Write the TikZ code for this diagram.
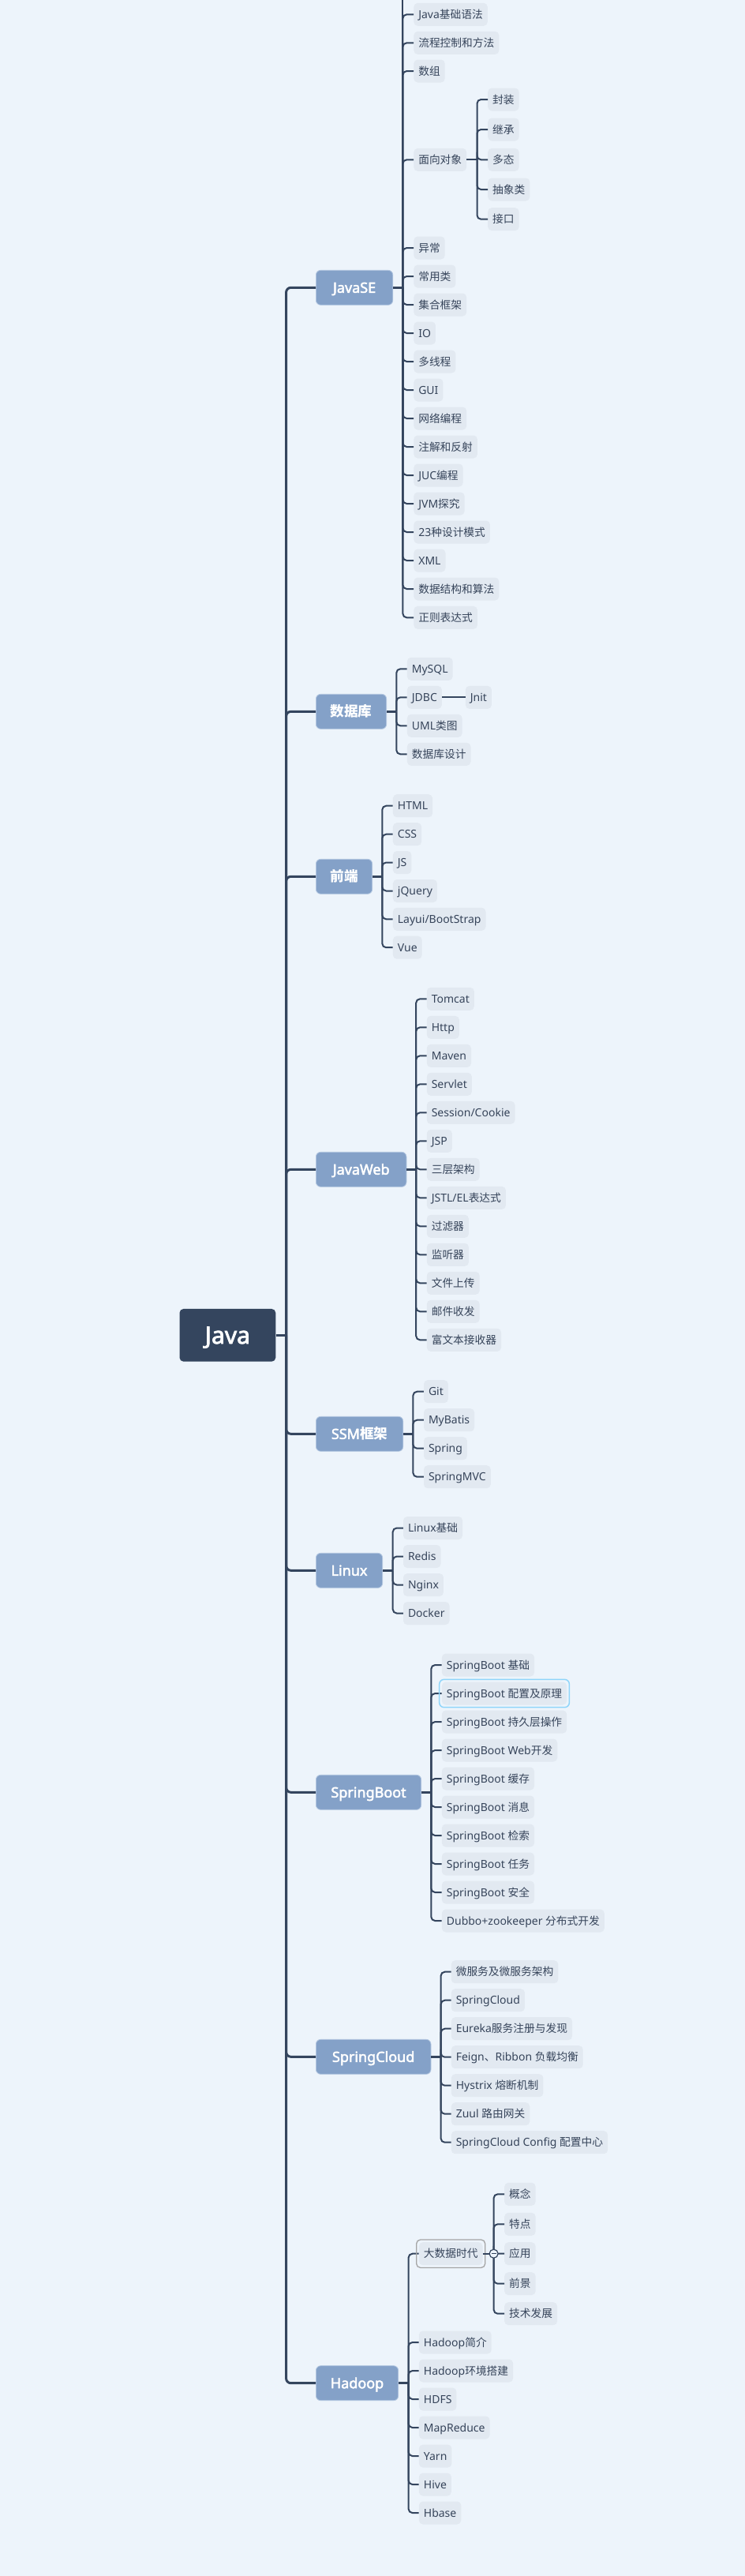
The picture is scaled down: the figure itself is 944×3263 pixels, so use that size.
\documentclass[tikz,border=0pt]{standalone}
\usepackage{fontspec}
\setmainfont{Noto Sans}[AutoFakeBold=2.5]
\newfontfamily\zhfont{Noto Sans CJK SC}[Scale=0.98]
\newcommand\zh[1]{{\zhfont #1}}
\definecolor{bgc}{HTML}{EDF4FB}
\definecolor{leafc}{HTML}{E2E9F1}
\definecolor{txtc}{HTML}{36445A}
\definecolor{topicc}{HTML}{84A1C8}
\definecolor{topicb}{HTML}{B3C7E1}
\definecolor{rootc}{HTML}{34455E}
\definecolor{linec}{HTML}{34455E}
\definecolor{selc}{HTML}{8FD5FA}
\definecolor{grayb}{HTML}{A5A5A5}
\begin{document}
\begin{tikzpicture}[x=1pt,y=-1pt,
  rootbox/.style={fill=rootc,text=white,rounded corners=5pt,minimum width=121.8pt,minimum height=66.7pt,inner sep=0pt,
    font=\fontsize{30}{36}\selectfont\bfseries,text height=27pt,text depth=5.6pt},
  topic/.style={fill=topicc,draw=topicb,line width=0.8pt,text=white,rounded corners=6pt,minimum height=44pt,inner sep=0pt,anchor=west,
    font=\fontsize{18}{22}\selectfont\bfseries,text height=17pt,text depth=4pt},
  leaf/.style={fill=leafc,text=txtc,rounded corners=5pt,minimum height=29pt,inner xsep=6pt,inner ysep=0pt,anchor=west,
    font=\fontsize{14}{17}\selectfont,text height=13pt,text depth=3pt},
  trunk/.style={draw=linec,line width=3pt,rounded corners=6pt},
  stub/.style={draw=linec,line width=2.6pt},
  br/.style={draw=linec,line width=2pt,rounded corners=5pt}]
\fill[bgc] (0,0) rectangle (944,3263);
\useasboundingbox (0,0) rectangle (944,3263);

% root and trunk
\node[rootbox] (java) at (288.4,1691.3) {Java};
\coordinate (T) at (362.6,1691.3);
\draw[trunk] (java.east) -- (T);

\node[topic,minimum width=97.4pt] (javase) at (400,364.3) {JavaSE};
\node[topic,minimum width=89.3pt] (db) at (400,901.3) {\zh{数据库}};
\node[topic,minimum width=71.3pt] (fe) at (400,1110.3) {\zh{前端}};
\node[topic,minimum width=114.6pt] (jw) at (400,1481.3) {JavaWeb};
\node[topic,minimum width=110.4pt] (ssm) at (400,1816.3) {SSM\zh{框架}};
\node[topic,minimum width=84.3pt] (lx) at (400,1989.3) {Linux};
\node[topic,minimum width=133.3pt] (sb) at (400,2270.3) {SpringBoot};
\node[topic,minimum width=145.6pt] (sc) at (400,2605.3) {SpringCloud};
\node[topic,minimum width=104.3pt] (hd) at (400,3018.7) {Hadoop};
\foreach \t in {javase,db,fe,jw,ssm,lx,sb,sc,hd} {\draw[trunk] (T) |- (\t.west);}

% JavaSE
\coordinate (jsB) at (510.4,364.3);
\coordinate (jsTop) at (510.4,0);
\draw[stub] (javase.east) -- (jsB);
\draw[br] (jsB) -- (jsTop);
\foreach \nm/\yy/\tx in {js1/18.3/{Java\zh{基础语法}},js2/54.3/{\zh{流程控制和方法}},js3/90/{\zh{数组}},js4/202.3/{\zh{面向对象}},
  js5/314/{\zh{异常}},js6/350/{\zh{常用类}},js7/386/{\zh{集合框架}},js8/422/{IO},js9/458/{\zh{多线程}},js10/494/{GUI},
  js11/530/{\zh{网络编程}},js12/566/{\zh{注解和反射}},js13/602/{JUC\zh{编程}},js14/638/{JVM\zh{探究}},js15/674/{23\zh{种设计模式}},
  js16/710/{XML},js17/746/{\zh{数据结构和算法}},js18/782.3/{\zh{正则表达式}}}
  {\node[leaf] (\nm) at (524.1,\yy) {\tx}; \draw[br] (jsB) |- (\nm.west);}
\coordinate (mxB) at (604.5,202.3);
\draw[br] (js4.east) -- (mxB);
\foreach \nm/\yy/\tx in {mx1/126/{\zh{封装}},mx2/164/{\zh{继承}},mx3/202.3/{\zh{多态}},mx4/240/{\zh{抽象类}},mx5/277.7/{\zh{接口}}}
  {\node[leaf] (\nm) at (618,\yy) {\tx}; \draw[br] (mxB) |- (\nm.west);}

% database
\coordinate (dbB) at (502.3,901.3);
\draw[stub] (db.east) -- (dbB);
\foreach \nm/\yy/\tx in {db1/847.3/{MySQL},db2/883.3/{JDBC},db3/919.3/{UML\zh{类图}},db4/955.3/{\zh{数据库设计}}}
  {\node[leaf] (\nm) at (515.7,\yy) {\tx}; \draw[br] (dbB) |- (\nm.west);}
\node[leaf] (jnit) at (589.6,883.3) {Jnit};
\draw[br] (db2.east) -- (jnit.west);

% front end
\coordinate (feB) at (484.3,1110.3);
\draw[stub] (fe.east) -- (feB);
\foreach \nm/\yy/\tx in {fe1/1020.7/{HTML},fe2/1056.7/{CSS},fe3/1092.5/{JS},fe4/1128.5/{jQuery},fe5/1164.3/{Layui/BootStrap},fe6/1200.2/{Vue}}
  {\node[leaf] (\nm) at (497.7,\yy) {\tx}; \draw[br] (feB) |- (\nm.west);}

% JavaWeb
\coordinate (jwB) at (527.2,1481.3);
\draw[stub] (jw.east) -- (jwB);
\foreach \tx [count=\i from 0] in {Tomcat,Http,Maven,Servlet,Session/Cookie,JSP,\zh{三层架构},JSTL/EL\zh{表达式},\zh{过滤器},\zh{监听器},\zh{文件上传},\zh{邮件收发},\zh{富文本接收器}}
  {\node[leaf] (jw\i) at (540.6,1265.3+36*\i) {\tx}; \draw[br] (jwB) |- (jw\i.west);}

% SSM
\coordinate (ssmB) at (523.4,1816.3);
\draw[stub] (ssm.east) -- (ssmB);
\foreach \tx [count=\i from 0] in {Git,MyBatis,Spring,SpringMVC}
  {\node[leaf] (ssm\i) at (536.8,1762.7+36*\i) {\tx}; \draw[br] (ssmB) |- (ssm\i.west);}

% Linux
\coordinate (lxB) at (497.7,1989.3);
\draw[stub] (lx.east) -- (lxB);
\foreach \tx [count=\i from 0] in {Linux\zh{基础},Redis,Nginx,Docker}
  {\node[leaf] (lx\i) at (510.8,1935.5+36*\i) {\tx}; \draw[br] (lxB) |- (lx\i.west);}

% SpringBoot
\coordinate (sbB) at (546.3,2270.3);
\draw[stub] (sb.east) -- (sbB);
\foreach \tx [count=\i from 0] in {SpringBoot \zh{基础},SpringBoot \zh{配置及原理},SpringBoot \zh{持久层操作},SpringBoot Web\zh{开发},SpringBoot \zh{缓存},
  SpringBoot \zh{消息},SpringBoot \zh{检索},SpringBoot \zh{任务},SpringBoot \zh{安全},Dubbo+zookeeper \zh{分布式开发}}
  {\node[leaf] (sb\i) at (559.7,2109+36*\i) {\tx}; \draw[br] (sbB) |- (sb\i.west);}
\draw[selc,line width=1.5pt,rounded corners=6pt] ([shift={(-3,-3)}]sb1.north west) rectangle ([shift={(3,3)}]sb1.south east);

% SpringCloud
\coordinate (scB) at (558.6,2605.3);
\draw[stub] (sc.east) -- (scB);
\foreach \tx [count=\i from 0] in {\zh{微服务及微服务架构},SpringCloud,Eureka\zh{服务注册与发现},Feign\zh{、}Ribbon \zh{负载均衡},Hystrix \zh{熔断机制},Zuul \zh{路由网关},SpringCloud Config \zh{配置中心}}
  {\node[leaf] (sc\i) at (571.6,2497.7+36*\i) {\tx}; \draw[br] (scB) |- (sc\i.west);}

% Hadoop
\coordinate (hdB) at (517.6,3018.7);
\draw[stub] (hd.east) -- (hdB);
\node[leaf] (bd) at (530.7,2854.7) {\zh{大数据时代}};
\draw[br] (hdB) |- (bd.west);
\foreach \tx [count=\i from 0] in {Hadoop\zh{简介},Hadoop\zh{环境搭建},HDFS,MapReduce,Yarn,Hive,Hbase}
  {\node[leaf] (hd\i) at (530.7,2967+36*\i) {\tx}; \draw[br] (hdB) |- (hd\i.west);}
\draw[grayb,line width=1.3pt,rounded corners=5pt] ([shift={(-3,-3)}]bd.north west) rectangle ([shift={(3,3)}]bd.south east);
\coordinate (bdB) at (625.6,2854.7);
\foreach \nm/\yy/\tx in {bd1/2779.3/{\zh{概念}},bd2/2817.3/{\zh{特点}},bd3/2854.7/{\zh{应用}},bd4/2892.7/{\zh{前景}},bd5/2930.7/{\zh{技术发展}}}
  {\node[leaf] (\nm) at (639,\yy) {\tx}; \draw[br] (bdB) |- (\nm.west);}
\draw[br] (bd.east) -- (bdB);
\node[circle,draw=linec,fill=bgc,line width=1.2pt,minimum size=11pt,inner sep=0pt] (btn) at (bdB) {};
\draw[linec,line width=1.2pt] ([xshift=-3pt]btn.center) -- ([xshift=3pt]btn.center);
\end{tikzpicture}
\end{document}
